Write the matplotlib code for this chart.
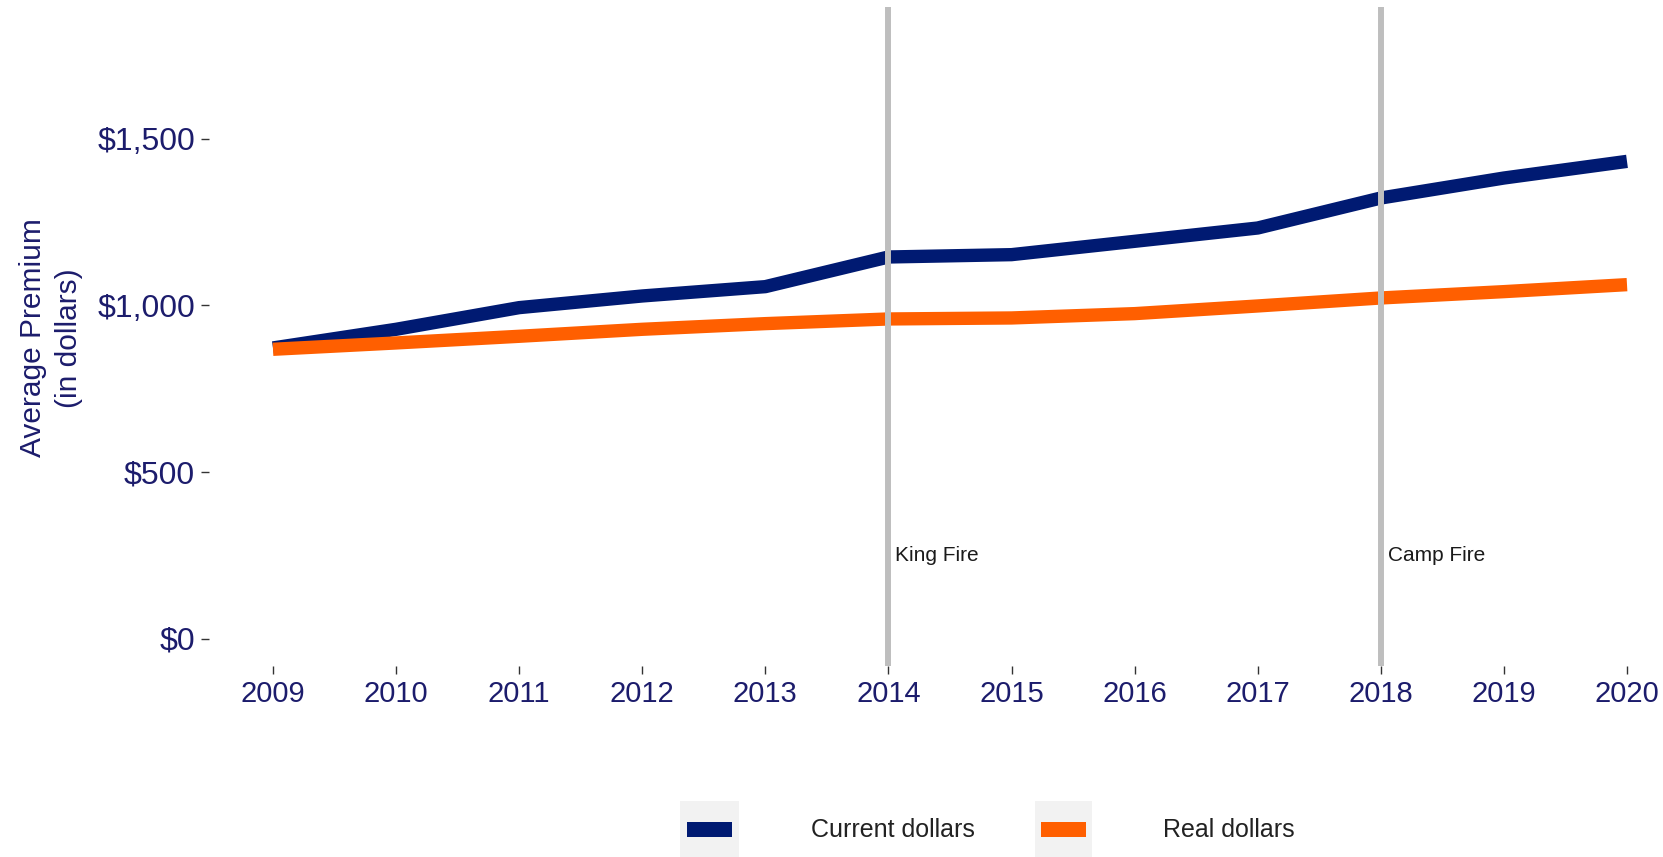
import matplotlib
matplotlib.use("Agg")
import matplotlib.pyplot as plt
from matplotlib.patches import Rectangle
from matplotlib.ticker import FuncFormatter

plt.rcParams['font.family'] = ['Liberation Sans', 'DejaVu Sans']

years = [2009, 2010, 2011, 2012, 2013, 2014, 2015, 2016, 2017, 2018, 2019, 2020]
current_dollars = [872, 928, 993, 1028, 1056, 1145, 1152, 1192, 1232, 1322, 1382, 1432]
real_dollars = [868, 887, 907, 928, 945, 959, 962, 975, 998, 1022, 1041, 1062]
fire_years = [2014, 2018]
fire_labels = ["King Fire", "Camp Fire"]
y_ticks = [0, 500, 1000, 1500]
series_labels = ["Current dollars", "Real dollars"]

NAVY = "#001a72"
ORANGE = "#ff5f00"
TICKTXT = "#1c1c6c"

W, H = 1663, 857
fig = plt.figure(figsize=(W / 100, H / 100), dpi=100)

ax_l, ax_r, ax_t, ax_b = 209, 1655, 7, 666
ax = fig.add_axes([ax_l / W, (H - ax_b) / H, (ax_r - ax_l) / W, (ax_b - ax_t) / H])

ax.plot(years, current_dollars, color=NAVY, lw=9.6, solid_capstyle='butt',
        solid_joinstyle='round', zorder=3)
ax.plot(years, real_dollars, color=ORANGE, lw=9.6, solid_capstyle='butt',
        solid_joinstyle='round', zorder=4)

for fy, fl in zip(fire_years, fire_labels):
    ax.axvline(fy, color="#bebebe", lw=4.3, zorder=5)
    ax.annotate(fl, xy=(fy, 250), xytext=(5, 0), textcoords='offset points',
                va='center', ha='left', fontsize=15, color="#1a1a1a")

ppy = (1627 - 273) / 11.0
ax.set_xlim(2009 - (273 - ax_l) / ppy, 2020 + (ax_r - 1627) / ppy)
ppv = 333.2 / 1000.0
ax.set_ylim((638.5 - ax_b) / ppv, (638.5 - ax_t) / ppv)

ax.set_xticks(years)
ax.set_yticks(y_ticks)
ax.yaxis.set_major_formatter(FuncFormatter(lambda v, p: "${:,.0f}".format(v)))
for s in ax.spines.values():
    s.set_visible(False)
ax.tick_params(axis='both', length=6, width=1.0, color="#333333",
               labelcolor=TICKTXT)
ax.tick_params(axis='x', pad=4, labelsize=21)
ax.tick_params(axis='y', pad=4, labelsize=23)

fig.text(51 / W, (H - 338) / H, "Average Premium\n(in dollars)", rotation=90,
         ha='center', va='center', multialignment='center', fontsize=21.5,
         color=TICKTXT, linespacing=1.35)

# legend (manual, at bottom, partially cut off as in the reference)
def fx(x):
    return x / W

def fy_(y):
    return (H - y) / H

keys = [(680, 739, 687, 732, 811, NAVY), (1035, 1092, 1041, 1086, 1163, ORANGE)]
for (bx0, bx1, lx0, lx1, tx, col), lab in zip(keys, series_labels):
    fig.add_artist(Rectangle((fx(bx0), fy_(H + 5)), fx(bx1 - bx0), (H + 5 - 801) / H,
                             transform=fig.transFigure, facecolor="#f2f2f2",
                             edgecolor='none'))
    fig.add_artist(Rectangle((fx(lx0), fy_(837)), fx(lx1 - lx0), 15 / H,
                             transform=fig.transFigure, facecolor=col,
                             edgecolor='none'))
    fig.text(fx(tx), fy_(830), lab, ha='left', va='center', fontsize=18,
             color="#222222")

fig.savefig("out.png", dpi=100)
